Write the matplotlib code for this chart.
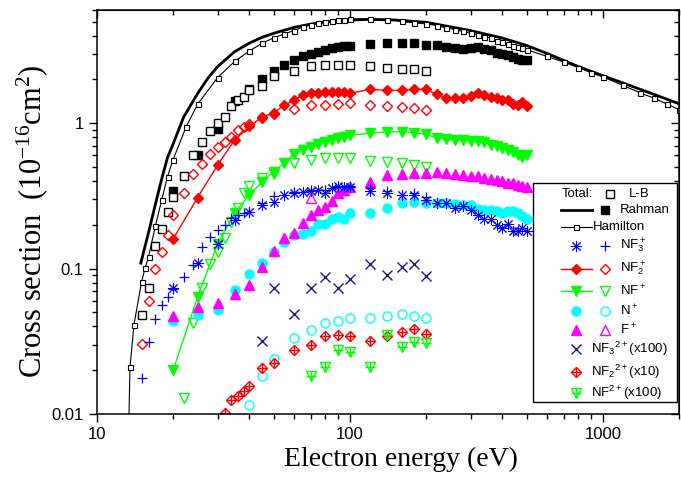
import numpy as np
import matplotlib
matplotlib.use("Agg")
import matplotlib.pyplot as plt
from matplotlib.patches import Rectangle
from matplotlib.ticker import LogLocator, NullFormatter

plt.rcParams.update({"font.family": "Liberation Sans", "mathtext.default": "regular"})

# ---- data ----
# Rahman (filled symbols)
E_R = [20, 25, 30, 35, 40, 45, 50, 55, 60, 65, 70, 75, 80, 85, 90, 95, 100,
       120, 140, 160, 180,
       200, 220, 240, 260, 280, 300, 320, 340, 360, 380, 400, 420, 440, 460, 480, 500]
TOT_R = [0.344, 0.604, 0.905, 1.41, 1.72, 2.02, 2.27, 2.50, 2.70, 2.88, 3.00, 3.11, 3.20, 3.28, 3.33, 3.37, 3.40,
         3.51, 3.55, 3.57, 3.57,
         3.46, 3.46, 3.33, 3.30, 3.24, 3.30, 3.33, 3.24, 3.16, 3.03, 2.97, 2.92, 2.84, 2.77, 2.73, 2.73]
NF3P_R = [0.073, 0.110, 0.148, 0.217, 0.245, 0.274, 0.289, 0.319, 0.332, 0.338, 0.344, 0.348, 0.333, 0.357, 0.370, 0.363, 0.366,
          0.344, 0.330, 0.321, 0.321,
          0.297, 0.282, 0.282, 0.261, 0.270, 0.254, 0.232, 0.220, 0.220, 0.200, 0.190, 0.203, 0.180, 0.182, 0.190, 0.180]
NF2P_R = [0.160, 0.308, 0.516, 0.765, 0.95, 1.10, 1.18, 1.33, 1.44, 1.55, 1.60, 1.62, 1.63, 1.64, 1.64, 1.63, 1.60,
          1.71, 1.68, 1.68, 1.71,
          1.71, 1.58, 1.50, 1.48, 1.48, 1.53, 1.62, 1.55, 1.51, 1.48, 1.45, 1.44, 1.36, 1.33, 1.39, 1.31]
NFP_R = [0.020, 0.064, 0.148, 0.241, 0.321, 0.396, 0.464, 0.530, 0.614, 0.653, 0.688, 0.718, 0.745, 0.765, 0.793, 0.806, 0.828,
         0.850, 0.872, 0.872, 0.860,
         0.837, 0.790, 0.777, 0.765, 0.765, 0.753, 0.753, 0.738, 0.707, 0.700, 0.671, 0.653, 0.630, 0.604, 0.588, 0.604]
NP_R = [0.0436, 0.0477, 0.0518, 0.0707, 0.092, 0.110, 0.131, 0.152, 0.169, 0.173, 0.180, 0.202, 0.202, 0.219, 0.225, 0.219, 0.241,
        0.243, 0.262, 0.282, 0.289,
        0.282, 0.282, 0.282, 0.277, 0.274, 0.274, 0.258, 0.254, 0.254, 0.247, 0.241, 0.247, 0.250, 0.241, 0.231, 0.219]
FP_R = [0.0471, 0.0543, 0.0582, 0.0664, 0.0765, 0.102, 0.133, 0.162, 0.176, 0.206, 0.234, 0.254, 0.267, 0.292, 0.330, 0.348, 0.366,
        0.394, 0.437, 0.447, 0.454,
        0.453, 0.464, 0.453, 0.447, 0.440, 0.435, 0.430, 0.420, 0.410, 0.405, 0.400, 0.390, 0.385, 0.375, 0.370, 0.362]

# L-B (open symbols)
E_LB = [15, 16, 17, 18, 19, 20, 22, 24, 26, 28, 30, 32, 34, 36, 38, 40, 45, 50, 60, 70, 80, 90, 100, 120, 140, 160, 180, 200]
TOT_LB = [0.048, 0.074, 0.144, 0.188, 0.245, 0.31, 0.43, 0.60, 0.74, 0.88, 1.00, 1.10, 1.31, 1.44, 1.51, 1.70, 1.79, 2.10,
          2.28, 2.46, 2.50, 2.52, 2.52, 2.46, 2.39, 2.37, 2.34, 2.27]
NF3P_LB = [0.0176, 0.0315, 0.045, 0.056, 0.064, 0.072, 0.088, 0.105, 0.140, 0.164, 0.183, 0.200, 0.222, 0.234, 0.242, 0.246,
           0.283, 0.318, 0.337, 0.348, 0.348, 0.365, 0.370, 0.36, 0.34, 0.32, 0.33, 0.31]
NF2P_LB = [0.0305, 0.060, 0.100, 0.129, 0.17, 0.232, 0.333, 0.446, 0.521, 0.614, 0.688, 0.745, 0.806, 0.896, 0.943, 0.98,
           1.077, 1.165, 1.26, 1.33, 1.33, 1.35, 1.37, 1.33, 1.31, 1.29, 1.28, 1.24]
E_NFP_LB = [22, 24, 26, 28, 30, 32, 34, 36, 38, 40, 45, 50, 60, 70, 80, 90, 100, 120, 140, 160, 180, 200]
NFP_LB = [0.0128, 0.042, 0.073, 0.108, 0.131, 0.162, 0.21, 0.26, 0.33, 0.37, 0.42, 0.45, 0.53, 0.558, 0.573, 0.573, 0.573,
          0.552, 0.543, 0.53, 0.516, 0.502]
E_NP_LB = [40, 45, 50, 60, 70, 80, 90, 100, 120, 140, 160, 180, 200]
NP_LB = [0.0115, 0.0183, 0.0238, 0.0332, 0.0378, 0.0425, 0.0436, 0.0458, 0.046, 0.047, 0.0484, 0.047, 0.0455]
E_FP_LB = [70]
FP_LB = [0.305]

# doubly charged ions (scaled)
E_NF3PP = [45, 50, 60, 70, 80, 90, 100, 120, 140, 160, 180, 200]
NF3PP = [0.032, 0.074, 0.049, 0.074, 0.087, 0.074, 0.085, 0.107, 0.090, 0.103, 0.107, 0.089]
E_NF2PP = [32, 34, 36, 38, 40, 45, 50, 60, 70, 80, 90, 100, 120, 140, 160, 180, 200]
NF2PP = [0.0101, 0.0125, 0.0133, 0.0143, 0.0156, 0.0206, 0.0223, 0.0276, 0.0298, 0.0344, 0.0349, 0.0344, 0.0318,
         0.0344, 0.0368, 0.0382, 0.0357]
E_NFPP = [70, 80, 90, 100, 120, 140, 160, 180, 200]
NFPP = [0.0183, 0.0211, 0.0276, 0.0269, 0.0211, 0.035, 0.0289, 0.0315, 0.031]

# Hamilton total
E_HAM = [13.2, 13.5, 14, 15, 15.5, 16, 17, 18, 19, 20, 22.5, 25, 30, 35, 40, 45, 50, 55, 60, 65, 70, 75, 80, 85, 90, 95, 100,
         120, 140, 160, 180, 200, 220, 240, 260, 280, 300, 320, 340, 360, 380, 400, 420, 440, 460, 480, 500,
         600, 700, 800, 900, 1000, 1200, 1400, 1600, 1800, 2000]
S_HAM = [0.003, 0.0209, 0.041, 0.081, 0.101, 0.121, 0.195, 0.294, 0.429, 0.562, 0.943, 1.35, 2.06, 2.66, 3.13, 3.55, 3.86,
         4.11, 4.33, 4.57, 4.74, 4.86, 5.00, 5.07, 5.13, 5.13, 5.21,
         5.21, 5.16, 5.02, 4.89, 4.82, 4.69, 4.52, 4.40, 4.27, 4.15, 4.05, 3.94, 3.84, 3.70, 3.60, 3.51, 3.42, 3.33, 3.28, 3.20,
         2.88, 2.63, 2.41, 2.22, 2.08, 1.82, 1.62, 1.48, 1.35, 1.24]

# total, solid line
E_LINE = [14.9, 16, 17, 18, 19, 20, 22, 25, 27.5, 30, 35, 40, 45, 50, 60, 70, 80, 100, 120, 150, 200, 300, 400, 500, 600,
          800, 1000, 1500, 2000]
S_LINE = [0.109, 0.178, 0.275, 0.41, 0.58, 0.72, 1.1, 1.6, 2.05, 2.45, 3.1, 3.55, 3.9, 4.15, 4.55, 4.8, 4.97, 5.12, 5.17,
          5.12, 4.94, 4.33, 3.85, 3.42, 3.02, 2.45, 2.12, 1.64, 1.36]

X_TICKS = [10, 100, 1000]
X_TICK_LABELS = ["10", "100", "1000"]
Y_TICKS = [0.01, 0.1, 1]
Y_TICK_LABELS = ["0.01", "0.1", "1"]

RED = "#ff0000"; GRN = "#00ff00"; CYAN = "#00ffff"; MAG = "#ff00ff"; BLUE = "#0000ff"; NAVY = "#1a1a8c"
ASTER = (8, 2, 0)

# ---- figure ----
W, H = 681, 482
L, R, T, B = 97, 679, 10, 414
fig = plt.figure(figsize=(W / 100, H / 100), dpi=100)
ax = fig.add_axes([L / W, 1 - B / H, (R - L) / W, (B - T) / H])
ax.set_xscale("log"); ax.set_yscale("log")
ax.set_xlim(10, 2000); ax.set_ylim(0.01, 6)

# totals
ax.plot(E_LINE, S_LINE, "-", color="k", lw=2)
ax.plot(E_HAM, S_HAM, "-", color="k", lw=0.8, marker="s", ms=3.6, mfc="white", mec="k", mew=0.8)
ax.plot(E_R, TOT_R, "s", color="k", ms=6)
ax.plot(E_LB, TOT_LB, "s", mfc="white", mec="k", ms=6.3, mew=1)

# singly charged
ax.plot(E_R, NF2P_R, "-", color=RED, lw=1, marker="D", ms=5, mec=RED, mfc=RED)
ax.plot(E_LB, NF2P_LB, "D", mfc="none", mec=RED, ms=4.8, mew=1)
ax.plot(E_R, NFP_R, "-", color=GRN, lw=1, marker="v", ms=7, mec=GRN, mfc=GRN)
ax.plot(E_NFP_LB, NFP_LB, "v", mfc="none", mec=GRN, ms=7, mew=1)
ax.plot(E_R, NP_R, "o", color=CYAN, ms=6.5)
ax.plot(E_NP_LB, NP_LB, "o", mfc="none", mec=CYAN, ms=6.5, mew=1)
ax.plot(E_R, FP_R, "^", color=MAG, ms=7)
ax.plot(E_FP_LB, FP_LB, "^", mfc="white", mec=MAG, ms=7, mew=1)
ax.plot(E_R, NF3P_R, ls="none", marker=ASTER, ms=8, mec=BLUE, mew=0.7)
ax.plot(E_LB, NF3P_LB, "+", mec=BLUE, ms=6.5, mew=0.9)

# doubly charged
ax.plot(E_NF3PP, NF3PP, "x", mec=NAVY, ms=6.5, mew=1)
ax.plot(E_NF2PP, NF2PP, "D", mfc="none", mec=RED, ms=5, mew=1)
ax.plot(E_NF2PP, NF2PP, "+", mec=RED, ms=6.5, mew=1)
ax.plot(E_NFPP, NFPP, "v", mfc="none", mec=GRN, ms=7, mew=1)
ax.plot(E_NFPP, NFPP, "+", mec=GRN, ms=6.5, mew=1)

# axes, ticks
ax.set_xticks(X_TICKS, labels=X_TICK_LABELS)
ax.set_yticks(Y_TICKS, labels=Y_TICK_LABELS)
for a in (ax.xaxis, ax.yaxis):
    a.set_minor_locator(LogLocator(base=10, subs=(2, 3, 4, 5, 6, 7, 8, 9), numticks=20))
    a.set_minor_formatter(NullFormatter())
ax.tick_params(which="both", direction="out", labelsize=12, width=1)
ax.tick_params(which="major", length=6)
ax.tick_params(which="minor", length=3.5)
for s in ax.spines.values():
    s.set_linewidth(1.1)
top = ax.secondary_xaxis("top")
rgt = ax.secondary_yaxis("right")
for sec, a in ((top, top.xaxis), (rgt, rgt.yaxis)):
    a.set_major_locator(LogLocator(base=10, numticks=20))
    a.set_minor_locator(LogLocator(base=10, subs=(2, 3, 4, 5, 6, 7, 8, 9), numticks=20))
    a.set_major_formatter(NullFormatter()); a.set_minor_formatter(NullFormatter())
    sec.tick_params(which="both", direction="in", width=1)
    sec.tick_params(which="major", length=6)
    sec.tick_params(which="minor", length=3.5)

# ---- legend (laid out by hand, pixel positions of the figure) ----
def fx(px):
    return (px - L) / (R - L)

def fy(py):
    return (B - py) / (B - T)

ax.set_xlabel("Electron energy (eV)", family="Liberation Serif", fontsize=20)
ax.xaxis.set_label_coords(fx(401), fy(447))
ax.set_ylabel("Cross section  (10$^{-16}$cm$^{2}$)", family="Liberation Serif", fontsize=22)
ax.yaxis.set_label_coords(fx(50), fy(221))

def key(px, py, **kw):
    kw.setdefault("ls", "none")
    ax.plot([fx(px)], [fy(py)], transform=ax.transAxes, clip_on=False, zorder=6, **kw)

def seg(py, color, lw):
    ax.plot([fx(561), fx(592)], [fy(py), fy(py)], transform=ax.transAxes, clip_on=False,
            color=color, lw=lw, zorder=6)

def label(px, py, s):
    ax.text(fx(px), fy(py), s, transform=ax.transAxes, ha="left", va="center", fontsize=9.5, zorder=6)

ax.add_patch(Rectangle((fx(533), fy(402)), fx(677) - fx(533), fy(183) - fy(402), transform=ax.transAxes,
                       fc="white", ec="k", lw=1, zorder=5, clip_on=False))
label(562, 194, "Total:"); key(610, 194, marker="s", mfc="white", mec="k", ms=6.3); label(629, 194, "L-B")
seg(210, "k", 2); key(605, 210, marker="s", color="k", ms=6); label(620, 210, "Rahman")
seg(227, "k", 0.8); key(576, 227, marker="s", mfc="white", mec="k", ms=3.6, mew=0.8); label(593, 227, "Hamilton")
key(576, 246, marker=ASTER, ms=8, mec=BLUE, mew=0.7); key(605, 246, marker="+", mec=BLUE, ms=6.5, mew=0.9)
label(620, 246, "NF$_3^+$")
seg(269, RED, 1); key(576, 269, marker="D", color=RED, ms=5); key(605, 269, marker="D", mfc="none", mec=RED, ms=4.8)
label(620, 269, "NF$_2^+$")
seg(291, GRN, 1); key(576, 291, marker="v", color=GRN, ms=7); key(605, 291, marker="v", mfc="none", mec=GRN, ms=7)
label(620, 291, "NF$^+$")
key(576, 311, marker="o", color=CYAN, ms=6.5); key(605, 311, marker="o", mfc="none", mec=CYAN, ms=6.5)
label(620, 311, "N$^+$")
key(576, 330, marker="^", color=MAG, ms=7); key(605, 330, marker="^", mfc="white", mec=MAG, ms=7)
label(620, 330, "F$^+$")
key(576, 349, marker="x", mec=NAVY, ms=6.5, mew=1); label(591, 349, "NF$_3$$^{2+}$(x100)")
key(576, 372, marker="D", mfc="none", mec=RED, ms=5); key(576, 372, marker="+", mec=RED, ms=6.5, mew=1)
label(591, 372, "NF$_2$$^{2+}$(x10)")
key(576, 393, marker="v", mfc="none", mec=GRN, ms=7); key(576, 393, marker="+", mec=GRN, ms=6.5, mew=1)
label(591, 393, "NF$^{2+}$(x100)")

fig.savefig("out.png", dpi=100)
